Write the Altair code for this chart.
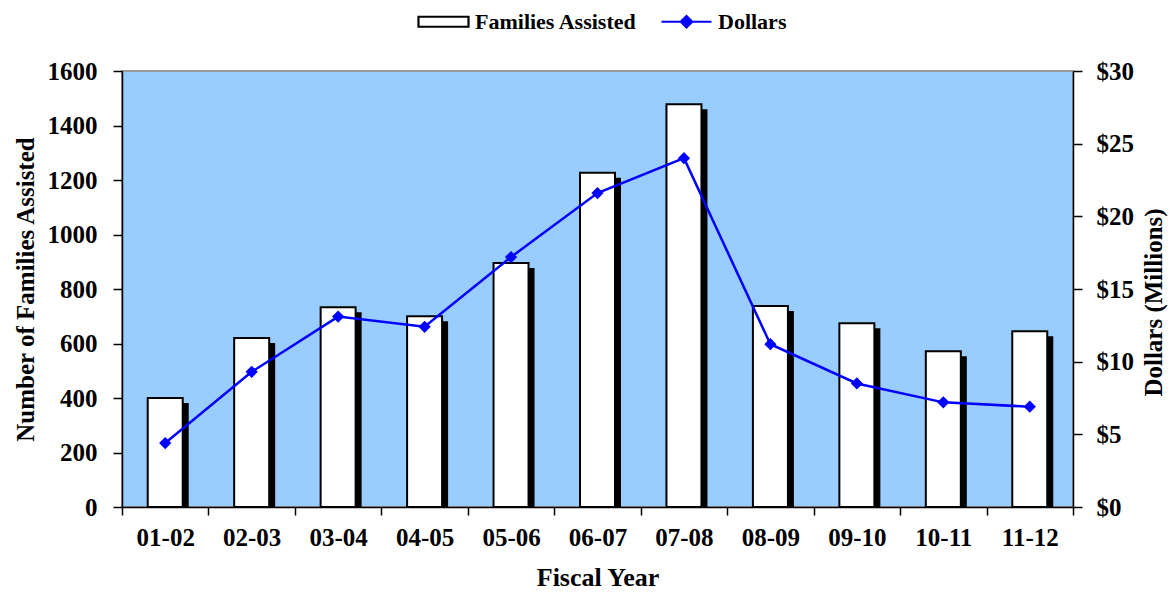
import altair as alt
import pandas as pd

years = ["01-02", "02-03", "03-04", "04-05", "05-06", "06-07", "07-08", "08-09", "09-10", "10-11", "11-12"]
families = [400, 620, 733, 700, 895, 1227, 1478, 738, 674, 572, 645]
dollars = [4.4, 9.3, 13.1, 12.4, 17.2, 21.6, 24.0, 11.2, 8.5, 7.2, 6.9]
series = ["Families Assisted", "Dollars"]

df = pd.DataFrame({"year": years, "families": families, "dollars": dollars,
                   "s_bar": series[0]})

FONT = "Liberation Serif"
BLUE = "#0000FF"

x = alt.X("year:N", sort=years,
          scale=alt.Scale(paddingInner=0, paddingOuter=0),
          axis=alt.Axis(title="Fiscal Year", labelAngle=0, tickBand="extent",
                        tickSize=8, labelPadding=10, titlePadding=14,
                        labelFontSize=25, titleFontSize=26))

y_left = alt.Y("families:Q",
               scale=alt.Scale(domain=[0, 1600], nice=False),
               axis=alt.Axis(title="Number of Families Assisted", values=list(range(0, 1601, 200)),
                             format="d", tickSize=9, labelPadding=16, titlePadding=9,
                             labelFontSize=25, titleFontSize=25, grid=False))

y_right = alt.Y("dollars:Q",
                scale=alt.Scale(domain=[0, 30], nice=False),
                axis=alt.Axis(title="Dollars (Millions)", orient="right", values=list(range(0, 31, 5)),
                              labelExpr="'$' + datum.value", tickSize=9, labelPadding=14,
                              titlePadding=33, titleAngle=270, titleY=231,
                              labelFontSize=25, titleFontSize=25, grid=False))

def make_legend():
    return alt.Legend(
        title=None, orient="none", direction="horizontal",
        legendX=295, legendY=-76,
        labelFont=FONT, labelFontSize=22, labelFontWeight="bold", labelColor="black",
        labelOffset=5, labelLimit=400, columnPadding=20, symbolSize=2500, symbolStrokeWidth=2.2,
        symbolOpacity=1,
    )

shape_paths = ["M-1,-0.2H1V0.2H-1Z", "M-1,0H1M0,-0.23L0.23,0L0,0.23L-0.23,0Z"]

base = alt.Chart(df)

shadow = base.mark_bar(size=35, color="black", xOffset=6, yOffset=5, clip=True).encode(x=x, y=y_left)
bars = base.mark_bar(size=35, strokeWidth=2).encode(
    x=x, y=y_left,
    fill=alt.Fill("s_bar:N", scale=alt.Scale(domain=series, range=["#FFFFFF", BLUE]), legend=make_legend()),
    stroke=alt.Stroke("s_bar:N", scale=alt.Scale(domain=series, range=["#000000", BLUE]), legend=make_legend()),
)
dummy = base.mark_point(filled=True).encode(
    x=x, y=y_left,
    shape=alt.Shape("s_bar:N", scale=alt.Scale(domain=series, range=shape_paths), legend=make_legend()),
).transform_filter("false")

line = base.mark_line(color=BLUE, strokeWidth=2.5).encode(x=x, y=y_right)
points = base.mark_point(shape="diamond", filled=True, size=150, color=BLUE, opacity=1).encode(x=x, y=y_right)

left_layer = alt.layer(shadow, bars, dummy)
right_layer = alt.layer(line, points)

chart = alt.layer(left_layer, right_layer).resolve_scale(y="independent").properties(
    width=951, height=436,
    autosize=alt.AutoSizeParams(type="none"),
    padding={"left": 114, "top": 63, "right": 95, "bottom": 85},
).configure_view(
    fill="#99CCFF", stroke="#999999", strokeWidth=2
).configure_axis(
    labelFont=FONT, titleFont=FONT, labelFontWeight="bold", titleFontWeight="bold",
    labelColor="black", titleColor="black", domainColor="black", tickColor="black",
    domainWidth=1.5, tickWidth=1.5
)

chart.save("out.html", embed_options={"renderer": "svg", "actions": False})
